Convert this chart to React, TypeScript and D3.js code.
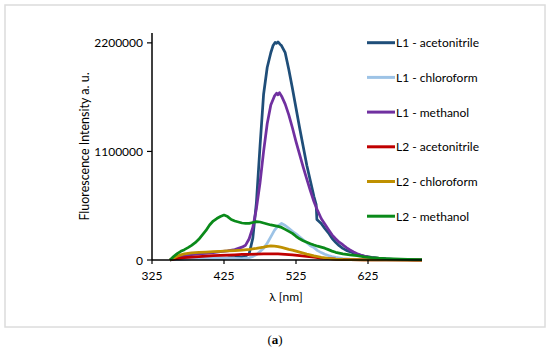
import React from 'react';
import * as d3 from 'd3';

// spectra, [wavelength nm, intensity in thousands]
const l1Acetonitrile: [number, number][] = [
  [350, 0], [355, 5], [360, 8], [370, 12], [380, 14], [390, 15], [400, 17], [410, 18], [420, 20],
  [430, 22], [440, 26], [445, 29], [450, 33], [455, 40], [460, 65], [465, 220], [470, 580],
  [475, 1150], [480, 1680], [485, 1950], [490, 2100], [493, 2170], [496, 2205], [498, 2195],
  [500, 2210], [503, 2185], [505, 2170], [510, 2100], [515, 1930], [520, 1740], [525, 1540],
  [530, 1340], [535, 1150], [540, 960], [545, 800], [550, 640], [553, 560], [554, 410],
  [560, 370], [565, 320], [570, 275], [575, 220], [580, 180], [585, 145], [590, 118], [595, 97],
  [600, 85], [605, 70], [610, 57], [615, 46], [620, 38], [625, 32], [630, 26], [640, 17],
  [650, 11], [660, 7], [670, 5], [680, 3], [690, 2], [700, 1],
];
const l1Chloroform: [number, number][] = [
  [350, 0], [360, 8], [370, 12], [380, 14], [390, 15], [400, 16], [410, 16], [420, 17], [430, 17],
  [440, 16], [450, 15], [460, 22], [465, 35], [470, 55], [475, 85], [480, 120], [485, 170],
  [490, 235], [495, 300], [500, 345], [505, 370], [510, 350], [515, 320], [520, 290], [525, 265],
  [530, 235], [535, 205], [540, 175], [545, 145], [550, 125], [555, 95], [560, 75], [565, 58],
  [570, 45], [575, 35], [580, 26], [590, 15], [600, 9], [610, 5], [620, 3], [640, 2], [660, 1],
  [700, 0],
];
const l1Methanol: [number, number][] = [
  [350, 0], [360, 20], [370, 40], [380, 55], [390, 62], [400, 68], [410, 75], [420, 85],
  [430, 92], [440, 105], [450, 130], [455, 150], [460, 215], [465, 330], [470, 520], [475, 780],
  [480, 1100], [485, 1380], [490, 1570], [495, 1660], [498, 1690], [500, 1675], [502, 1695],
  [505, 1660], [510, 1580], [515, 1470], [520, 1340], [525, 1200], [530, 1070], [535, 940],
  [540, 820], [545, 700], [550, 590], [555, 500], [560, 420], [565, 365], [570, 310], [575, 255],
  [580, 215], [585, 180], [590, 155], [595, 125], [600, 102], [605, 82], [610, 64], [615, 50],
  [620, 40], [625, 32], [630, 25], [640, 16], [650, 10], [660, 7], [670, 5], [680, 3], [690, 2],
  [700, 1],
];
const l2Acetonitrile: [number, number][] = [
  [350, 0], [355, 8], [360, 15], [370, 24], [380, 30], [390, 35], [400, 40], [410, 44], [420, 47],
  [430, 50], [440, 53], [450, 56], [460, 58], [470, 60], [480, 62], [490, 63], [500, 62],
  [510, 58], [520, 52], [530, 44], [540, 36], [550, 28], [560, 20], [570, 14], [580, 9],
  [590, 6], [600, 4], [620, 2], [650, 1], [700, 0],
];
const l2Chloroform: [number, number][] = [
  [350, 0], [355, 20], [360, 38], [365, 52], [370, 62], [380, 72], [390, 77], [400, 80], [410, 84],
  [420, 88], [430, 92], [440, 96], [450, 100], [460, 108], [470, 118], [480, 130], [485, 138],
  [490, 142], [495, 140], [500, 136], [505, 128], [510, 118], [515, 108], [520, 100], [530, 80],
  [540, 60], [550, 42], [560, 28], [570, 17], [580, 10], [590, 6], [600, 4], [620, 2], [650, 1],
  [700, 0],
];
const l2Methanol: [number, number][] = [
  [350, 0], [355, 35], [360, 65], [365, 88], [370, 105], [375, 125], [380, 148], [385, 175],
  [390, 210], [395, 255], [400, 300], [405, 355], [410, 395], [415, 420], [420, 440], [425, 455],
  [430, 440], [435, 410], [440, 395], [445, 385], [450, 375], [455, 370], [460, 372], [465, 380],
  [470, 388], [475, 385], [480, 375], [485, 365], [490, 355], [495, 348], [500, 340], [505, 330],
  [510, 310], [515, 290], [520, 270], [525, 240], [530, 215], [535, 195], [540, 180], [545, 165],
  [550, 152], [555, 140], [560, 130], [565, 120], [570, 105], [575, 90], [580, 78], [590, 62],
  [600, 52], [610, 45], [620, 32], [630, 24], [640, 18], [650, 14], [660, 11], [680, 6], [700, 3],
];

const seriesNames = ['L1 - acetonitrile', 'L1 - chloroform', 'L1 - methanol', 'L2 - acetonitrile', 'L2 - chloroform', 'L2 - methanol'];
const seriesData = [l1Acetonitrile, l1Chloroform, l1Methanol, l2Acetonitrile, l2Chloroform, l2Methanol];
const colors = ['#1f4e79', '#9dc3e6', '#7030a0', '#c00000', '#bf9000', '#0a8a1a'];
const xTicks = [325, 425, 525, 625];
const yTicks = [0, 1100000, 2200000];

const font = 'Lato, "Open Sans", sans-serif';
const fs = 12;

export default function App() {
  const x = d3.scaleLinear().domain([325, 700]).range([152, 422]);
  const y = d3.scaleLinear().domain([0, 2300000]).range([260, 33]);
  const line = d3.line<[number, number]>()
    .x(d => x(d[0]))
    .y(d => y(d[1] * 1000));

  return (
    <div style={{ position: 'absolute', left: 0, top: 0 }}>
      <svg width={550} height={350} style={{ display: 'block', background: '#fff' }}>
        <rect x={5} y={5} width={540} height={322} fill='#fff' stroke='#dcdcdc' strokeWidth={1.5} />

        {seriesData.map((d, i) => (
          <path key={seriesNames[i]} d={line(d) || ''} fill='none' stroke={colors[i]} strokeWidth={2.75} strokeLinejoin='round' />
        ))}

        {/* axes */}
        <line x1={x(325)} x2={x(325)} y1={33} y2={y(0)} stroke='#000' strokeWidth={1.5} />
        <line x1={x(325)} x2={x(700)} y1={y(0)} y2={y(0)} stroke='#000' strokeWidth={1.5} />
        {yTicks.map(t => (
          <g key={t}>
            <line x1={x(325) - 5} x2={x(325)} y1={y(t)} y2={y(t)} stroke='#000' strokeWidth={1.2} />
            <text x={x(325) - 9} y={y(t) + 4.5} textAnchor='end' fontFamily={font} fontSize={fs} fill='#000'>{t}</text>
          </g>
        ))}
        {xTicks.map(t => (
          <g key={t}>
            <line x1={x(t)} x2={x(t)} y1={y(0)} y2={y(0) + 4} stroke='#000' strokeWidth={1.2} />
            <text x={x(t)} y={279.5} textAnchor='middle' fontFamily={font} fontSize={fs} fill='#000'>{t}</text>
          </g>
        ))}
        <text x={286} y={301} textAnchor='middle' fontFamily={font} fontSize={fs} fill='#000'>λ [nm]</text>
        <text transform='translate(89,146.5) rotate(-90)' textAnchor='middle' fontFamily={font} fontSize={12.5} fill='#000'>Fluorescence Intensity a. u.</text>

        {/* legend */}
        {seriesNames.map((name, i) => (
          <g key={name} transform={`translate(367,${42.7 + i * 34.7})`}>
            <line x1={0} x2={28} y1={0} y2={0} stroke={colors[i]} strokeWidth={3} />
            <text x={29} y={4.5} fontFamily={font} fontSize={fs} fill='#000'>{name}</text>
          </g>
        ))}

        <text x={275} y={344} textAnchor='middle' fontFamily='"Liberation Serif", serif' fontSize={13} fill='#000'>
          (<tspan fontWeight='bold'>a</tspan>)
        </text>
      </svg>
    </div>
  );
}
